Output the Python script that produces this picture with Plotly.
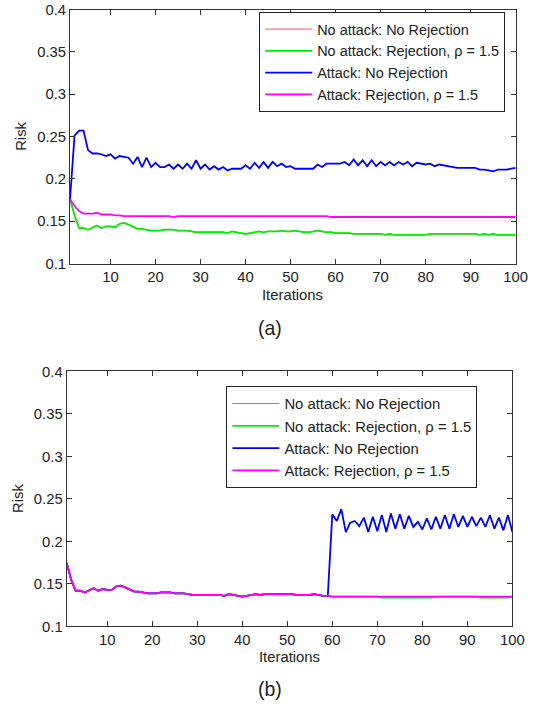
import plotly.graph_objects as go

iterations = list(range(1, 101))

# ---------- (a) ----------
top_attack_norej = [
    0.176, 0.251, 0.257, 0.257, 0.234, 0.230, 0.230, 0.229, 0.227, 0.229,
    0.224, 0.227, 0.226, 0.225, 0.218, 0.226, 0.214, 0.225, 0.214, 0.219,
    0.214, 0.214, 0.217, 0.212, 0.217, 0.212, 0.218, 0.212, 0.222, 0.212,
    0.217, 0.211, 0.215, 0.211, 0.214, 0.210, 0.212, 0.212, 0.212, 0.216,
    0.212, 0.219, 0.213, 0.220, 0.213, 0.220, 0.215, 0.218, 0.214, 0.215,
    0.212, 0.212, 0.212, 0.212, 0.212, 0.217, 0.214, 0.218, 0.218, 0.218,
    0.218, 0.220, 0.216, 0.223, 0.216, 0.222, 0.215, 0.222, 0.215, 0.220,
    0.216, 0.220, 0.216, 0.220, 0.217, 0.220, 0.215, 0.219, 0.218, 0.217,
    0.218, 0.215, 0.217, 0.216, 0.215, 0.214, 0.213, 0.213, 0.213, 0.213,
    0.213, 0.211, 0.211, 0.210, 0.209, 0.211, 0.211, 0.211, 0.212, 0.213,
]
top_attack_rej = [
    0.176, 0.168, 0.162, 0.159, 0.159, 0.159, 0.160, 0.158, 0.158, 0.158,
    0.157, 0.157, 0.156, 0.156, 0.156, 0.156, 0.156, 0.156, 0.156, 0.156,
    0.156, 0.156, 0.156, 0.155, 0.156, 0.156, 0.156, 0.156, 0.156, 0.156,
    0.156, 0.156, 0.156, 0.156, 0.156, 0.156, 0.156, 0.156, 0.156, 0.156,
    0.156, 0.156, 0.156, 0.156, 0.156, 0.156, 0.156, 0.156, 0.156, 0.156,
    0.156, 0.156, 0.156, 0.156, 0.156, 0.156, 0.156, 0.156, 0.155, 0.155,
    0.155, 0.155, 0.155, 0.155, 0.155, 0.155, 0.155, 0.155, 0.155, 0.155,
    0.155, 0.155, 0.155, 0.155, 0.155, 0.155, 0.155, 0.155, 0.155, 0.155,
    0.155, 0.155, 0.155, 0.155, 0.155, 0.155, 0.155, 0.155, 0.155, 0.155,
    0.155, 0.155, 0.155, 0.155, 0.155, 0.155, 0.155, 0.155, 0.155, 0.155,
]
top_noattack_rej = [
    0.176, 0.157, 0.142, 0.142, 0.140, 0.143, 0.145, 0.142, 0.144, 0.144,
    0.143, 0.147, 0.148, 0.146, 0.143, 0.141, 0.141, 0.140, 0.139, 0.139,
    0.139, 0.140, 0.140, 0.140, 0.139, 0.139, 0.139, 0.138, 0.137, 0.137,
    0.137, 0.137, 0.137, 0.137, 0.137, 0.136, 0.138, 0.137, 0.136, 0.135,
    0.136, 0.137, 0.138, 0.137, 0.138, 0.138, 0.138, 0.139, 0.138, 0.138,
    0.139, 0.138, 0.137, 0.137, 0.138, 0.139, 0.138, 0.137, 0.137, 0.136,
    0.136, 0.136, 0.136, 0.135, 0.135, 0.135, 0.135, 0.135, 0.135, 0.135,
    0.134, 0.135, 0.134, 0.134, 0.134, 0.134, 0.134, 0.134, 0.134, 0.134,
    0.135, 0.135, 0.135, 0.135, 0.135, 0.135, 0.135, 0.135, 0.135, 0.135,
    0.135, 0.134, 0.135, 0.134, 0.135, 0.134, 0.134, 0.134, 0.134, 0.134,
]
top_noattack_norej = list(top_noattack_rej)  # hidden under the green line

# ---------- (b) ----------
bottom_early = [
    0.175, 0.155, 0.142, 0.142, 0.140, 0.143, 0.145, 0.142, 0.144, 0.143,
    0.143, 0.147, 0.148, 0.146, 0.143, 0.141, 0.141, 0.140, 0.139, 0.139,
    0.139, 0.140, 0.140, 0.140, 0.139, 0.139, 0.139, 0.138, 0.137, 0.137,
    0.137, 0.137, 0.137, 0.137, 0.137, 0.136, 0.138, 0.137, 0.136, 0.135,
    0.136, 0.137, 0.138, 0.137, 0.138, 0.138, 0.138, 0.138, 0.138, 0.138,
    0.138, 0.137, 0.137, 0.137, 0.137, 0.138, 0.137, 0.136,
]
bottom_attack_norej_tail = [
    0.136, 0.232, 0.224, 0.238, 0.211, 0.222, 0.224, 0.218, 0.228, 0.211,
    0.229, 0.212, 0.231, 0.211, 0.233, 0.215, 0.232, 0.215, 0.230, 0.217,
    0.223, 0.214, 0.227, 0.214, 0.229, 0.215, 0.231, 0.215, 0.232, 0.217,
    0.230, 0.217, 0.229, 0.218, 0.228, 0.217, 0.231, 0.215, 0.228, 0.213,
    0.231, 0.211,
]
bottom_attack_rej_tail = [
    0.136, 0.135, 0.135, 0.135, 0.135, 0.135, 0.135, 0.135, 0.135, 0.135,
    0.135, 0.135, 0.135, 0.135, 0.135, 0.135, 0.135, 0.135, 0.135, 0.135,
    0.135, 0.135, 0.135, 0.135, 0.135, 0.135, 0.135, 0.135, 0.135, 0.135,
    0.135, 0.135, 0.135, 0.135, 0.135, 0.135, 0.135, 0.135, 0.135, 0.135,
    0.135, 0.135,
]
bottom_noattack_rej_tail = [
    0.136, 0.135, 0.135, 0.135, 0.135, 0.135, 0.135, 0.135, 0.135, 0.135,
    0.135, 0.135, 0.134, 0.134, 0.134, 0.134, 0.134, 0.134, 0.134, 0.134,
    0.134, 0.134, 0.134, 0.134, 0.135, 0.135, 0.135, 0.135, 0.135, 0.135,
    0.135, 0.135, 0.135, 0.135, 0.134, 0.134, 0.134, 0.134, 0.134, 0.134,
    0.134, 0.135,
]
bottom_attack_norej = bottom_early + bottom_attack_norej_tail
bottom_attack_rej = bottom_early + bottom_attack_rej_tail
bottom_noattack_rej = bottom_early + bottom_noattack_rej_tail
bottom_noattack_norej = list(bottom_noattack_rej)

series_names = [
    "No attack: No Rejection",
    "No attack: Rejection, \u03c1 = 1.5",
    "Attack: No Rejection",
    "Attack: Rejection, \u03c1 = 1.5",
]
series_colors = ["#ff5555", "#00ee00", "#0000ff", "#ff00ff"]
series_widths = [1, 1.8, 1.8, 1.8]

y_ticks = [0.1, 0.15, 0.2, 0.25, 0.3, 0.35, 0.4]
y_ticktext = ["0.1", "0.15", "0.2", "0.25", "0.3", "0.35", "0.4"]
x_ticks = [10, 20, 30, 40, 50, 60, 70, 80, 90, 100]

FONT = "Liberation Sans, Arial, sans-serif"
TXT = "#222222"

fig = go.Figure()
top_data = [top_noattack_norej, top_noattack_rej, top_attack_norej, top_attack_rej]
bot_data = [bottom_noattack_norej, bottom_noattack_rej, bottom_attack_norej, bottom_attack_rej]
for k in range(4):
    fig.add_trace(go.Scatter(
        x=iterations, y=top_data[k], mode="lines", name=series_names[k],
        line=dict(color=series_colors[k], width=series_widths[k]),
        xaxis="x", yaxis="y", legend="legend"))
for k in range(4):
    fig.add_trace(go.Scatter(
        x=iterations, y=bot_data[k], mode="lines", name=series_names[k],
        line=dict(color=series_colors[k], width=series_widths[k]),
        xaxis="x2", yaxis="y2", legend="legend2"))

W, H = 537, 708
# The photographed page comes out slightly shrunk and shifted; map target
# picture pixels back to figure pixels before turning them into paper units.
SX, BX = 0.9835, 0.25
SY, BY = 0.977, 7.8
def px_x(p):
    return ((p - BX) / SX) / W
def px_y(p):
    return 1 - ((p - BY) / SY) / H
def fs(s):
    return s / SY

axis_common = dict(
    showline=True, linecolor="#333333", linewidth=1, mirror="ticks",
    ticks="inside", ticklen=5, tickcolor="#333333", showgrid=False,
    zeroline=False, ticklabeloverflow="allow",
    tickfont=dict(family=FONT, size=fs(14.5), color=TXT),
)

fig.update_layout(
    width=W, height=H, margin=dict(l=0, r=0, t=0, b=0),
    paper_bgcolor="white", plot_bgcolor="white", showlegend=True,
    xaxis=dict(domain=[px_x(70.7), px_x(519)], range=[1, 100], tickvals=x_ticks,
               anchor="y", **axis_common),
    yaxis=dict(domain=[px_y(263.3), px_y(9.3)], range=[0.1, 0.4], tickvals=y_ticks,
               ticktext=y_ticktext, anchor="x", **axis_common),
    xaxis2=dict(domain=[px_x(67.3), px_x(515.7)], range=[1, 100], tickvals=x_ticks,
                anchor="y2", **axis_common),
    yaxis2=dict(domain=[px_y(626), px_y(371)], range=[0.1, 0.4], tickvals=y_ticks,
                ticktext=y_ticktext, anchor="x2", **axis_common),
    legend=dict(x=px_x(261), y=px_y(12), xanchor="left", yanchor="top",
                bgcolor="white", bordercolor="#222222", borderwidth=1,
                font=dict(family=FONT, size=fs(14.1), color=TXT), itemwidth=47,
                tracegroupgap=0),
    legend2=dict(x=px_x(228), y=px_y(386), xanchor="left", yanchor="top",
                 bgcolor="white", bordercolor="#222222", borderwidth=1,
                 font=dict(family=FONT, size=fs(14.5), color=TXT), itemwidth=47,
                 tracegroupgap=0),
)

annots = [
    ("Risk", 22, 136, 14.5, -90),
    ("Iterations", 294, 295, 14.5, 0),
    ("(a)", 272, 328, 19, 0),
    ("Risk", 19, 498, 14.5, -90),
    ("Iterations", 291, 657, 14.5, 0),
    ("(b)", 272, 689, 19, 0),
]
for text, ax_, ay_, size, ang in annots:
    fig.add_annotation(text=text, x=px_x(ax_), y=px_y(ay_), xref="paper", yref="paper",
                       showarrow=False, textangle=ang, xanchor="center", yanchor="middle",
                       font=dict(family=FONT, size=fs(size), color=TXT))

fig.write_html("out.html")
